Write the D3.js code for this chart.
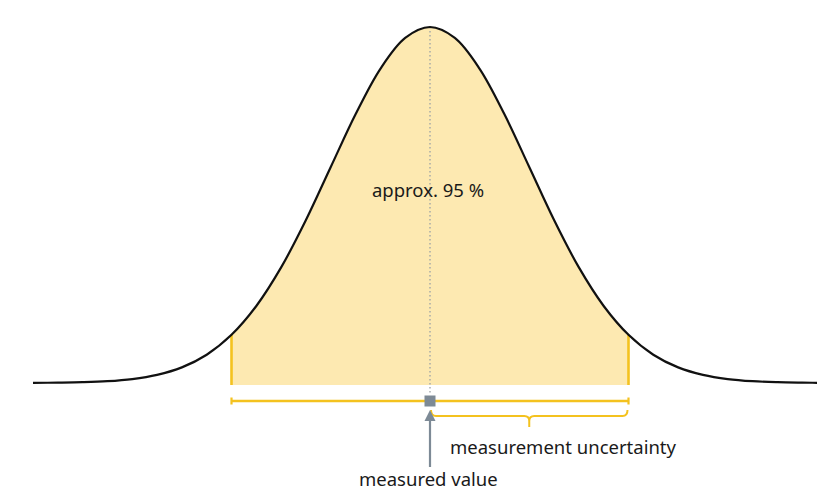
<!DOCTYPE html>
<html>
<head>
<meta charset="utf-8">
<script src="https://cdn.jsdelivr.net/npm/d3@7"></script>
<style>
  html, body { margin: 0; padding: 0; background: #fff; }
  svg { display: block; }
  text { font-family: "Noto Sans", "DejaVu Sans", sans-serif; fill: #1a1a1a; }
</style>
</head>
<body>
<svg id="chart" width="817" height="490"></svg>
<script>
// z-values (in standard deviations) and density
const zValues = [-4, -3.75, -3.5, -3.25, -3, -2.75, -2.5, -2.25, -2, -1.75, -1.5, -1.25, -1, -0.75, -0.5, -0.25,
                 0, 0.25, 0.5, 0.75, 1, 1.25, 1.5, 1.75, 2, 2.25, 2.5, 2.75, 3, 3.25, 3.5, 3.75, 4];
const density = [0.0001, 0.0004, 0.0009, 0.0020, 0.0044, 0.0091, 0.0175, 0.0317, 0.0540, 0.0863, 0.1295, 0.1826, 0.2420, 0.3011, 0.3521, 0.3867,
                 0.3989, 0.3867, 0.3521, 0.3011, 0.2420, 0.1826, 0.1295, 0.0863, 0.0540, 0.0317, 0.0175, 0.0091, 0.0044, 0.0020, 0.0009, 0.0004, 0.0001];
const intervalBounds = [-2, 2];
const measuredValue = [0];
const labels = ["approx. 95 %", "measurement uncertainty", "measured value"];

const svg = d3.select("#chart");
const x = d3.scaleLinear().domain([-4, 4]).range([33, 827]);
const y = d3.scaleLinear().domain([0, 0.3989]).range([383, 27]);

const pts = zValues.map((z, i) => ({ z, d: density[i] }));
const yellow = "#f4c21f";
const fillCol = "#fde9b1";
const grey = "#7d8a96";

// shaded interval
const inside = pts.filter(p => p.z >= intervalBounds[0] && p.z <= intervalBounds[1]);
const area = d3.area().x(p => x(p.z)).y0(y(0) + 2).y1(p => y(p.d)).curve(d3.curveCatmullRom);
svg.append("path").attr("d", area(inside)).attr("fill", fillCol);

// vertical boundary lines
intervalBounds.forEach(b => {
  const d = density[zValues.indexOf(b)];
  svg.append("line").attr("x1", x(b)).attr("x2", x(b))
    .attr("y1", y(d)).attr("y2", y(0) + 2)
    .attr("stroke", yellow).attr("stroke-width", 2.6);
});

// dotted centre line
svg.append("line").attr("x1", x(measuredValue[0])).attr("x2", x(measuredValue[0]))
  .attr("y1", y(0.3989)).attr("y2", y(0) + 12)
  .attr("stroke", "#9aa0a6").attr("stroke-width", 1.3).attr("stroke-dasharray", "1.5,2.5");

// curve
const line = d3.line().x(p => x(p.z)).y(p => y(p.d)).curve(d3.curveCatmullRom);
svg.append("path").attr("d", line(pts)).attr("fill", "none")
  .attr("stroke", "#111").attr("stroke-width", 2.2);

// label in area
svg.append("text").attr("x", x(measuredValue[0]) - 2).attr("y", 197)
  .attr("text-anchor", "middle").attr("font-size", 18.5).text(labels[0]);

// horizontal interval bar
const barY = y(0) + 18;
svg.append("line").attr("x1", x(intervalBounds[0])).attr("x2", x(intervalBounds[1]))
  .attr("y1", barY).attr("y2", barY).attr("stroke", yellow).attr("stroke-width", 2.6);
intervalBounds.forEach(b => {
  svg.append("line").attr("x1", x(b)).attr("x2", x(b))
    .attr("y1", barY - 3.5).attr("y2", barY + 3.5)
    .attr("stroke", yellow).attr("stroke-width", 2.2);
});

// brace from measured value to upper bound
const bx0 = x(measuredValue[0]) + 1, bx1 = x(intervalBounds[1]) - 1;
const bm = (bx0 + bx1) / 2, by = barY + 15, r = 5;
const brace = d3.path();
brace.moveTo(bx0, by - 6);
brace.quadraticCurveTo(bx0, by, bx0 + r, by);
brace.lineTo(bm - r, by);
brace.quadraticCurveTo(bm, by, bm, by + 5);
brace.lineTo(bm, by + 11);
brace.moveTo(bm, by + 5);
brace.quadraticCurveTo(bm, by, bm + r, by);
brace.lineTo(bx1 - r, by);
brace.quadraticCurveTo(bx1, by, bx1, by - 6);
svg.append("path").attr("d", brace.toString()).attr("fill", "none")
  .attr("stroke", yellow).attr("stroke-width", 2);

// measured value square
const mx = x(measuredValue[0]);
svg.append("rect").attr("x", mx - 5.5).attr("y", barY - 5.5).attr("width", 11).attr("height", 11).attr("fill", grey);

// arrow
svg.append("line").attr("x1", mx).attr("x2", mx).attr("y1", barY + 18).attr("y2", barY + 66)
  .attr("stroke", grey).attr("stroke-width", 2.2);
svg.append("path")
  .attr("d", `M${mx},${barY + 9} L${mx - 5.5},${barY + 20} L${mx + 5.5},${barY + 20} Z`)
  .attr("fill", grey);

// labels below
svg.append("text").attr("x", 450).attr("y", 454).attr("font-size", 18.5).text(labels[1]);
svg.append("text").attr("x", 359).attr("y", 486).attr("font-size", 18.5).text(labels[2]);
</script>
</body>
</html>
